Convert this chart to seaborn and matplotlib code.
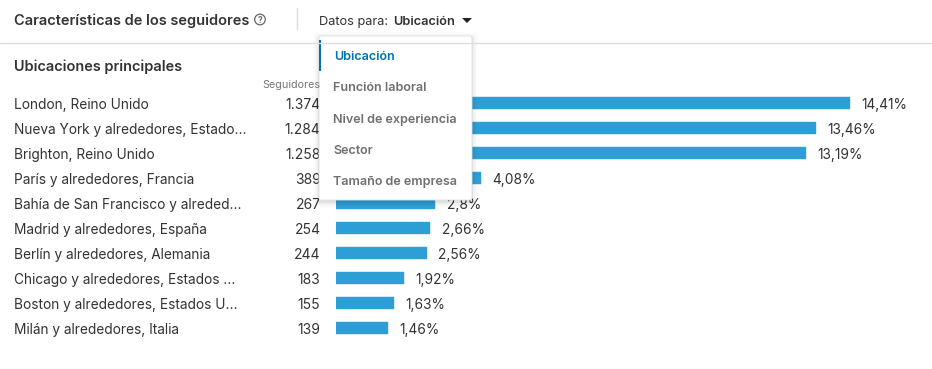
import matplotlib
matplotlib.use("Agg")
import matplotlib.pyplot as plt
from matplotlib.patches import Rectangle, FancyBboxPatch, Circle, Polygon
import pandas as pd
import seaborn as sns

# data
locations = ["London, Reino Unido", "Nueva York y alrededores, Estado...", "Brighton, Reino Unido",
             "París y alrededores, Francia", "Bahía de San Francisco y alreded...",
             "Madrid y alrededores, España", "Berlín y alrededores, Alemania",
             "Chicago y alrededores, Estados ...", "Boston y alrededores, Estados U...",
             "Milán y alrededores, Italia"]
followers = ["1.374", "1.284", "1.258", "389", "267", "254", "244", "183", "155", "139"]
percent = [14.41, 13.46, 13.19, 4.08, 2.8, 2.66, 2.56, 1.92, 1.63, 1.46]
percent_labels = ["14,41%", "13,46%", "13,19%", "4,08%", "2,8%", "2,66%", "2,56%", "1,92%", "1,63%", "1,46%"]
menu_items = ["Ubicación", "Función laboral", "Nivel de experiencia", "Sector", "Tamaño de empresa"]

W, H = 932, 369
PX_PER_PCT = 35.67
TEXT = "#333333"
BLUE = "#2e9fd6"

sns.set_theme(style="white")
plt.rcParams['font.family'] = ['Inter', 'DejaVu Sans']

fig = plt.figure(figsize=(W / 100, H / 100), dpi=100, facecolor="white")

# bar axes, placed in pixels
left, right, top, bottom = 335.6, 920, 90.5, 340.5
ax = fig.add_axes([left / W, 1 - bottom / H, (right - left) / W, (bottom - top) / H])
df = pd.DataFrame({"location": locations, "percent": percent})
sns.barplot(data=df, x="percent", y="location", color=BLUE, saturation=1, width=0.5, ax=ax)
ax.set_xlim(0, (right - left) / PX_PER_PCT)
ax.set_ylim(9.5, -0.5)
ax.axis("off")
for b in ax.patches:
    b.set_edgecolor(BLUE)
    b.set_linewidth(0.3)
    b.set_joinstyle("round")

trans = ax.get_yaxis_transform()
axw = right - left
text_shift = 0.04  # text sits a pixel below the bar centre
for i, (loc, n, v, lab) in enumerate(zip(locations, followers, percent, percent_labels)):
    ax.text((14 - left) / axw, i + text_shift, loc, transform=trans, ha="left", va="center_baseline",
            fontsize=9.85, color=TEXT, clip_on=False)
    ax.text((320.5 - left) / axw, i + text_shift, n, transform=trans, ha="right", va="center_baseline",
            fontsize=10, color=TEXT, clip_on=False)
    ax.annotate(lab, (v, i + text_shift), xytext=(8.3, 0), textcoords="offset points", ha="left",
                va="center_baseline", fontsize=9.9, color=TEXT, annotation_clip=False)

# overlay in pixel coordinates for the page header and dropdown
ov = fig.add_axes([0, 0, 1, 1], zorder=5)
ov.set_xlim(0, W)
ov.set_ylim(H, 0)
ov.axis("off")
ov.patch.set_alpha(0)

ov.plot([0, W], [43, 43], color="#dddddd", lw=1)
ov.plot([296.5, 296.5], [8, 29], color="#dddddd", lw=1)
ov.text(14, 19, "Características de los seguidores", fontsize=10.5, fontweight="semibold",
        color=TEXT, ha="left", va="center_baseline")
ov.add_patch(Circle((260, 19.5), 5.3, fill=False, ec="#666666", lw=0.9))
ov.text(260, 19.7, "?", fontsize=6, fontweight="bold", color="#666666", ha="center", va="center_baseline")
ov.text(319, 20.5, "Datos para:", fontsize=9.2, color=TEXT, ha="left", va="center_baseline")
ov.text(393.5, 20.5, "Ubicación", fontsize=9.2, fontweight="semibold", color=TEXT, ha="left", va="center_baseline")
ov.add_patch(Polygon([(462, 18), (472, 18), (467, 23)], closed=True, color="#222222", lw=0))
ov.text(14, 65.5, "Ubicaciones principales", fontsize=10.45, fontweight="semibold", color=TEXT,
        ha="left", va="center_baseline")
ov.text(320.5, 83.5, "Seguidores", fontsize=7.8, color="#777777", ha="right", va="center_baseline")

# dropdown with a soft shadow
for grow, alpha in [(6, 0.012), (4, 0.02), (2.5, 0.03), (1, 0.05)]:
    ov.add_patch(FancyBboxPatch((319 - grow, 36 - grow + 2), 153 + 2 * grow, 164 + 2 * grow,
                                boxstyle="round,pad=0,rounding_size=3", fc="black", ec="none", alpha=alpha))
ov.add_patch(FancyBboxPatch((319, 36), 153, 164, boxstyle="round,pad=0,rounding_size=2",
                            fc="white", ec="#dedede", lw=0.6))
ov.add_patch(Rectangle((319, 40), 2.2, 31, fc="#0073b1", ec="none"))
menu_y = [55.7, 86.7, 118, 149.5, 180.5]
for i, item in enumerate(menu_items):
    ov.text(334.6 if i == 0 else 333, menu_y[i], item, fontsize=9.05, fontweight="semibold",
            color="#0073b1" if i == 0 else "#707070", ha="left", va="center_baseline")

fig.savefig("out.png", dpi=100, facecolor="white")
